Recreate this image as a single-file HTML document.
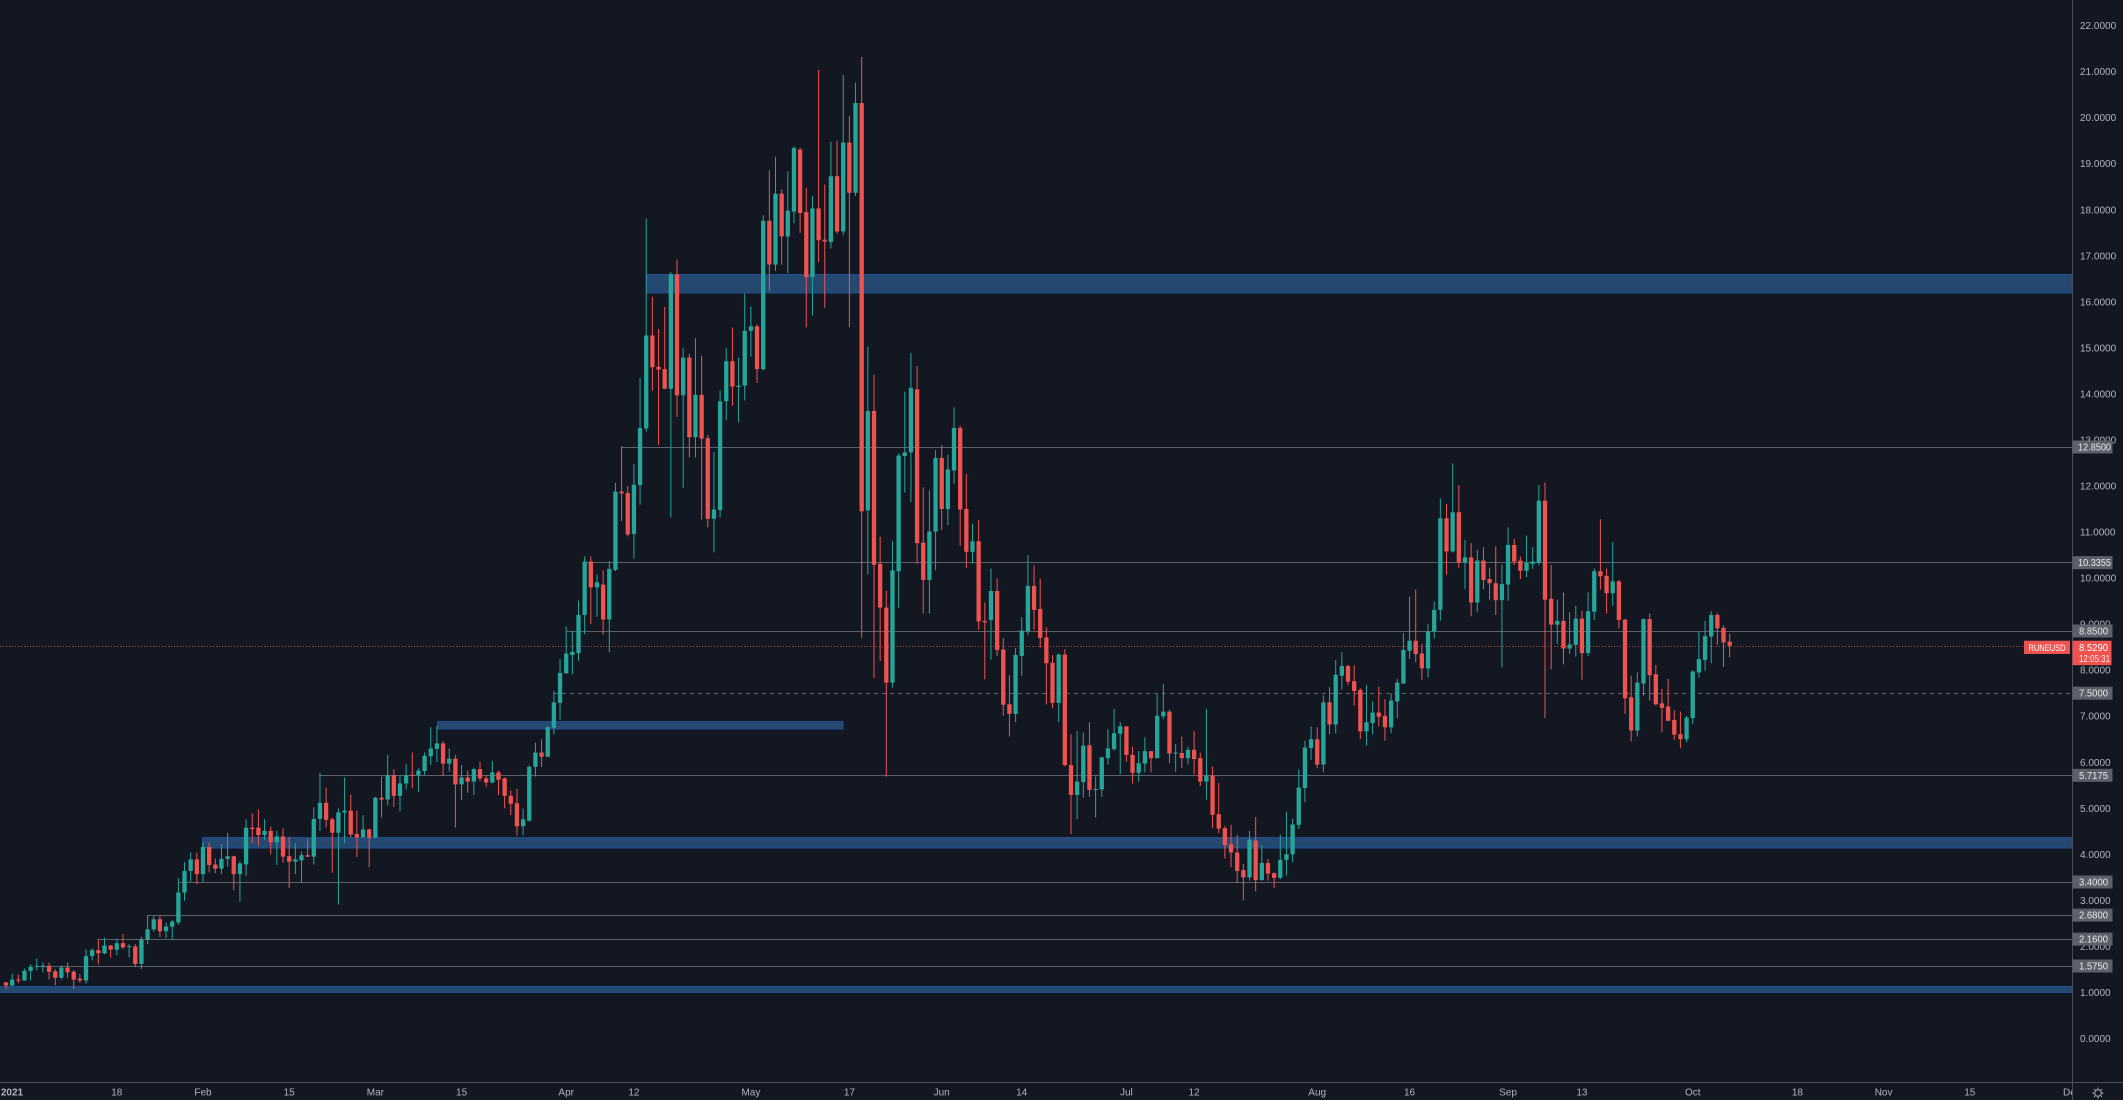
<!DOCTYPE html>
<html><head><meta charset="utf-8">
<style>
html,body{margin:0;padding:0;background:#131722;overflow:hidden;}
svg{display:block}
text{font-family:"Liberation Sans",sans-serif;}
</style></head>
<body>
<svg id="chart" width="2123" height="1100" viewBox="0 0 2123 1100" xmlns="http://www.w3.org/2000/svg">
<defs>
<clipPath id="plot"><rect x="0" y="0" width="2072" height="1082"/></clipPath>
</defs>
<rect width="2123" height="1100" fill="#131722"/>

<!-- zones -->
<g fill="#24486f" stroke="#1f4e8f" stroke-width="1">
<rect x="646.5" y="274.5" width="1425.5" height="18.5"/>
<rect x="437.5" y="721.5" width="405.5" height="7.5"/>
<rect x="202.5" y="837.5" width="1869.5" height="10.5"/>
<rect x="-1" y="986.5" width="2073" height="6"/>
</g>

<!-- levels -->
<g stroke="#5d606b" stroke-width="1" fill="none">
<line x1="621.7" y1="447.5" x2="2072" y2="447.5"/>
<line x1="587" y1="562.5" x2="2072" y2="562.5"/>
<line x1="566.7" y1="631.5" x2="2072" y2="631.5"/>
<line x1="554" y1="693.5" x2="2072" y2="693.5" stroke-dasharray="4 4"/>
<line x1="319" y1="775.5" x2="2072" y2="775.5"/>
<line x1="178.7" y1="882.5" x2="2072" y2="882.5"/>
<line x1="147" y1="915.5" x2="2072" y2="915.5"/>
<line x1="97.3" y1="939.5" x2="2072" y2="939.5"/>
<line x1="36.7" y1="966.5" x2="2072" y2="966.5"/>
</g>
<line x1="0" y1="646.5" x2="2024" y2="646.5" stroke="#ef5350" stroke-opacity="0.75" stroke-width="1" stroke-dasharray="1 2"/>

<g id="candles" clip-path="url(#plot)"></g>

<!-- axes -->
<line x1="2072.5" y1="0" x2="2072.5" y2="1100" stroke="#4b4f5a" stroke-width="1"/>
<line x1="0" y1="1082.5" x2="2123" y2="1082.5" stroke="#4b4f5a" stroke-width="1"/>

<g font-size="10" fill="#b2b5be">
<text x="2080" y="29.1">22.0000</text>
<text x="2080" y="75.2">21.0000</text>
<text x="2080" y="121.2">20.0000</text>
<text x="2080" y="167.2">19.0000</text>
<text x="2080" y="213.3">18.0000</text>
<text x="2080" y="259.3">17.0000</text>
<text x="2080" y="305.4">16.0000</text>
<text x="2080" y="351.4">15.0000</text>
<text x="2080" y="397.4">14.0000</text>
<text x="2080" y="443.5">13.0000</text>
<text x="2080" y="489.5">12.0000</text>
<text x="2080" y="535.6">11.0000</text>
<text x="2080" y="581.6">10.0000</text>
<text x="2080" y="627.6">9.0000</text>
<text x="2080" y="673.7">8.0000</text>
<text x="2080" y="719.7">7.0000</text>
<text x="2080" y="765.8">6.0000</text>
<text x="2080" y="811.8">5.0000</text>
<text x="2080" y="857.8">4.0000</text>
<text x="2080" y="903.9">3.0000</text>
<text x="2080" y="949.9">2.0000</text>
<text x="2080" y="996">1.0000</text>
<text x="2080" y="1042">0.0000</text>
</g>

<!-- level labels -->
<g fill="#5d606b">
<rect x="2072.5" y="440.5" width="40" height="13"/>
<rect x="2072.5" y="556.2" width="40" height="13"/>
<rect x="2072.5" y="624.5" width="40" height="13"/>
<rect x="2072.5" y="686.7" width="40" height="13"/>
<rect x="2072.5" y="768.8" width="40" height="13"/>
<rect x="2072.5" y="875.5" width="40" height="13"/>
<rect x="2072.5" y="908.6" width="40" height="13"/>
<rect x="2072.5" y="932.6" width="40" height="13"/>
<rect x="2072.5" y="959.5" width="40" height="13"/>
</g>
<g font-size="10" fill="#e8e9ed" lengthAdjust="spacingAndGlyphs">
<text x="2078" y="450.5" textLength="33" lengthAdjust="spacingAndGlyphs">12.8500</text>
<text x="2078" y="566.2" textLength="33" lengthAdjust="spacingAndGlyphs">10.3355</text>
<text x="2079" y="634.5" textLength="29" lengthAdjust="spacingAndGlyphs">8.8500</text>
<text x="2079" y="696.7" textLength="29" lengthAdjust="spacingAndGlyphs">7.5000</text>
<text x="2079" y="778.8" textLength="29" lengthAdjust="spacingAndGlyphs">5.7175</text>
<text x="2079" y="885.5" textLength="29" lengthAdjust="spacingAndGlyphs">3.4000</text>
<text x="2079" y="918.6" textLength="29" lengthAdjust="spacingAndGlyphs">2.6800</text>
<text x="2079" y="942.6" textLength="29" lengthAdjust="spacingAndGlyphs">2.1600</text>
<text x="2079" y="969.5" textLength="29" lengthAdjust="spacingAndGlyphs">1.5750</text>
</g>

<!-- current price -->
<rect x="2024" y="640.7" width="46" height="13.3" fill="#ef5350"/>
<text x="2047" y="650.9" font-size="9" fill="#ffffff" text-anchor="middle" textLength="37" lengthAdjust="spacingAndGlyphs">RUNEUSD</text>
<rect x="2072.5" y="640.7" width="39" height="24.5" fill="#ef5350"/>
<text x="2079" y="651" font-size="10" fill="#ffffff" textLength="29" lengthAdjust="spacingAndGlyphs">8.5290</text>
<text x="2079" y="662" font-size="10" fill="#ffffff" fill-opacity="0.85" textLength="31" lengthAdjust="spacingAndGlyphs">12:05:31</text>

<!-- x axis -->
<g font-size="10" fill="#b2b5be" text-anchor="middle">
<text x="12" y="1095.5" font-weight="bold">2021</text>
<text x="116.8" y="1095.5">18</text>
<text x="203" y="1095.5">Feb</text>
<text x="289.2" y="1095.5">15</text>
<text x="375.4" y="1095.5">Mar</text>
<text x="461.6" y="1095.5">15</text>
<text x="566.2" y="1095.5">Apr</text>
<text x="633.9" y="1095.5">12</text>
<text x="750.9" y="1095.5">May</text>
<text x="849.4" y="1095.5">17</text>
<text x="941.7" y="1095.5">Jun</text>
<text x="1021.7" y="1095.5">14</text>
<text x="1126.4" y="1095.5">Jul</text>
<text x="1194.1" y="1095.5">12</text>
<text x="1317.2" y="1095.5">Aug</text>
<text x="1409.5" y="1095.5">16</text>
<text x="1508" y="1095.5">Sep</text>
<text x="1581.9" y="1095.5">13</text>
<text x="1692.8" y="1095.5">Oct</text>
<text x="1797.4" y="1095.5">18</text>
<text x="1883.6" y="1095.5">Nov</text>
<text x="1969.8" y="1095.5">15</text>
</g>
<svg x="2055" y="1083" width="17" height="17" overflow="hidden">
<text x="8" y="12.5" font-size="10" fill="#b2b5be">De</text>
</svg>

<!-- gear -->
<g stroke="#b2b5be" stroke-width="1" fill="none">
<circle cx="2098" cy="1093" r="3.3"/>
<line x1="2098" y1="1087.5" x2="2098" y2="1089"/>
<line x1="2098" y1="1097" x2="2098" y2="1098.5"/>
<line x1="2092.5" y1="1093" x2="2094" y2="1093"/>
<line x1="2102" y1="1093" x2="2103.5" y2="1093"/>
<line x1="2094.1" y1="1089.1" x2="2095.1" y2="1090.1"/>
<line x1="2100.9" y1="1095.9" x2="2101.9" y2="1096.9"/>
<line x1="2101.9" y1="1089.1" x2="2100.9" y2="1090.1"/>
<line x1="2095.1" y1="1095.9" x2="2094.1" y2="1096.9"/>
</g>
</svg>

<script>
var D=[
[1.15,1.15,1.0,1.08],[1.08,1.34,1.08,1.21],[1.21,1.32,1.13,1.19],[1.19,1.45,1.18,1.40],[1.40,1.54,1.19,1.49],
[1.49,1.67,1.41,1.51],[1.50,1.58,1.37,1.51],[1.51,1.58,1.21,1.38],[1.39,1.44,1.09,1.25],[1.25,1.52,1.21,1.47],
[1.47,1.58,1.25,1.37],[1.38,1.42,1.0,1.21],[1.23,1.33,1.14,1.19],[1.19,1.87,1.12,1.72],[1.72,1.89,1.63,1.85],
[1.85,2.08,1.54,1.78],[1.78,2.12,1.76,1.95],[1.95,1.96,1.69,1.86],[1.86,2.08,1.74,2.0],[2.0,2.2,1.87,1.91],
[1.93,1.98,1.69,1.94],[1.93,1.98,1.48,1.55],[1.55,2.14,1.44,2.08],[2.08,2.61,1.98,2.3],[2.3,2.6,2.25,2.52],
[2.52,2.61,2.13,2.26],[2.26,2.45,2.11,2.36],[2.36,2.5,2.08,2.47],[2.45,3.41,2.4,3.1],[3.1,3.76,2.92,3.57],
[3.57,3.97,3.34,3.82],[3.82,3.97,3.28,3.5],[3.5,4.2,3.32,4.09],[4.09,4.19,3.54,3.7],[3.71,3.84,3.52,3.62],
[3.62,4.15,3.5,3.83],[3.83,4.4,3.66,3.89],[3.89,3.9,3.15,3.5],[3.5,3.78,2.9,3.73],[3.71,4.69,3.46,4.51],
[4.51,4.82,4.18,4.48],[4.51,4.91,4.12,4.35],[4.35,4.69,4.24,4.44],[4.44,4.53,3.93,4.19],[4.19,4.44,3.7,4.32],
[4.32,4.5,3.75,3.88],[3.89,4.31,3.2,3.77],[3.77,4.17,3.5,3.82],[3.8,3.99,3.32,3.91],[3.91,4.26,3.87,3.88],
[3.88,4.95,3.71,4.7],[4.7,5.7,4.44,5.05],[5.05,5.38,4.51,4.68],[4.69,4.73,3.53,4.4],[4.4,4.93,2.84,4.84],
[4.84,5.6,4.18,4.88],[4.88,5.23,4.3,4.36],[4.37,4.88,3.87,4.3],[4.3,4.78,4.29,4.47],[4.47,4.49,3.65,4.29],
[4.29,5.18,4.28,5.16],[5.16,5.62,4.73,5.12],[5.12,6.09,5.0,5.65],[5.65,5.78,4.96,5.2],[5.2,5.64,4.86,5.47],
[5.47,5.89,5.34,5.65],[5.66,6.14,5.36,5.64],[5.65,5.8,5.29,5.75],[5.74,6.14,5.65,6.07],[6.06,6.69,5.87,6.23],
[6.22,6.72,5.93,6.34],[6.34,6.39,5.63,5.9],[5.9,6.23,5.73,6.01],[6.01,6.09,4.51,5.45],[5.45,5.87,5.11,5.6],
[5.6,5.75,5.27,5.51],[5.51,5.81,5.22,5.78],[5.78,5.94,5.52,5.58],[5.58,5.65,5.39,5.49],[5.49,5.96,5.47,5.71],
[5.71,5.75,5.22,5.55],[5.58,5.6,4.93,5.2],[5.2,5.32,4.78,5.03],[5.04,5.35,4.34,4.54],[4.54,4.93,4.34,4.69],
[4.66,5.87,4.64,5.83],[5.83,6.36,5.62,6.14],[6.14,6.43,5.83,6.05],[6.05,6.72,6.04,6.69],[6.68,7.48,6.54,7.23],
[7.22,8.17,6.85,7.87],[7.86,8.88,7.86,8.29],[8.26,8.78,7.84,8.33],[8.3,9.44,8.13,9.13],[9.13,10.4,8.71,10.29],
[10.29,10.4,8.93,9.73],[9.73,10.01,9.09,9.84],
[9.86,10.17,8.77,9.10],[9.1,10.37,8.39,10.2],[10.18,12.07,10.15,11.88],[11.88,12.87,11.24,11.84],[11.85,12.0,10.91,10.95],
[10.96,12.48,10.42,12.03],[12.02,14.35,11.6,13.26],[13.25,17.81,13.18,15.27],[15.27,16.11,14.07,14.58],[14.59,15.41,12.89,14.53],
[14.54,15.89,14.11,14.11],[14.11,16.65,11.32,16.6],[16.6,16.92,13.5,13.97],[13.97,15.0,11.96,14.79],[14.79,14.87,12.62,13.06],
[13.06,15.21,12.62,13.98],[13.98,14.83,11.27,13.03],[13.04,13.11,11.1,11.29],[11.29,12.74,10.56,11.49],[11.48,14.08,11.32,13.84],
[13.84,15.0,13.43,14.71],[14.71,15.44,13.74,14.16],[14.15,14.79,13.38,14.18],[14.18,16.18,13.86,15.37],[15.37,15.9,14.81,15.47],
[15.47,15.51,14.24,14.54],[14.54,17.88,14.51,17.76],[17.76,18.86,16.23,16.81],[16.81,19.15,16.67,18.35],[18.35,18.44,16.81,17.42],
[17.42,18.83,16.62,17.98],[17.96,19.38,17.71,19.34],[19.31,19.35,17.5,17.93],[17.95,18.48,15.45,16.54],[16.54,18.3,15.7,18.03],
[18.03,21.04,16.86,17.34],[17.35,18.55,15.87,17.31],[17.3,19.48,17.16,18.73],[18.73,19.5,17.48,17.53],[17.53,20.93,17.45,19.46],
[19.46,20.04,15.45,18.37],[18.37,20.76,18.3,20.32],[20.32,21.32,8.7,11.45],[11.47,15.03,10.08,13.63],[13.63,14.42,7.83,10.29],
[10.31,10.9,8.2,9.36],[9.36,9.73,5.69,7.73],[7.73,10.81,7.62,10.17],[10.15,12.71,9.36,12.66],[12.65,14.05,11.86,12.73],
[12.73,14.89,11.65,14.13],[14.1,14.61,10.31,10.76],[10.77,11.97,9.23,9.96],[9.96,11.91,9.23,11.01],[11.01,12.78,10.17,12.61],
[12.61,12.89,11.05,11.5],[11.5,12.68,11.15,12.36],[12.34,13.71,12.05,13.26],[13.26,13.31,10.7,11.49],[11.5,12.26,10.22,10.57],
[10.57,11.18,10.31,10.8],[10.8,11.26,8.88,9.06],[9.07,9.47,7.8,9.04],[9.09,10.21,8.23,9.72],[9.72,9.99,8.31,8.44],
[8.45,8.7,7.01,7.25],[7.26,7.89,6.56,7.05],[7.05,8.48,6.87,8.33],[8.31,9.15,7.88,8.86],[8.85,10.5,8.76,9.83],
[9.83,10.28,8.88,9.31],[9.33,9.99,8.49,8.7],[8.71,8.93,7.26,8.15],[8.16,8.33,7.17,7.29],[7.29,8.36,6.87,8.34],
[8.34,8.46,5.91,5.94],[5.94,6.61,4.44,5.29],[5.29,6.68,4.76,5.58],[5.57,6.65,5.23,6.36],[6.37,6.87,5.25,5.4],
[5.4,5.69,4.8,5.42],[5.41,6.11,5.25,6.11],[6.09,6.72,5.95,6.3],[6.29,7.16,6.25,6.63],[6.62,6.87,5.74,6.78],
[6.78,6.78,6.01,6.16],[6.16,6.34,5.54,5.77],[5.77,6.24,5.58,5.98],[5.97,6.54,5.78,6.24],[6.24,6.24,5.78,6.09],
[6.09,7.48,6.08,7.01],[7.0,7.7,6.94,7.1],[7.1,7.14,5.98,6.19],[6.19,6.4,5.79,6.21],[6.2,6.56,5.87,6.09],
[6.09,6.34,5.95,6.27],[6.27,6.68,5.74,6.07],[6.09,6.21,5.48,5.58],[5.58,7.16,5.19,5.71],[5.71,5.91,4.57,4.86],
[4.87,5.55,4.46,4.56],[4.57,4.62,3.91,4.2],[4.22,4.64,3.72,4.04],[4.04,4.42,3.38,3.64],[3.66,3.79,3.0,3.5],
[3.5,4.51,3.43,4.32],[4.3,4.81,3.19,3.44],[3.44,4.2,3.43,3.81],[3.81,3.9,3.43,3.58],[3.59,3.61,3.27,3.49],
[3.49,4.43,3.46,3.88],[3.88,4.93,3.54,4.0],[4.0,4.78,3.83,4.65],[4.64,5.85,4.55,5.45],[5.44,6.47,5.13,6.32],
[6.31,6.78,6.05,6.5],[6.5,6.76,5.87,5.95],[5.95,7.46,5.78,7.3],[7.3,7.63,6.61,6.82],[6.82,8.22,6.63,7.9],
[7.88,8.39,7.58,8.09],[8.09,8.12,7.68,7.75],[7.76,8.11,7.23,7.55],[7.57,7.61,6.5,6.67],[6.67,7.68,6.36,6.87],
[6.85,7.32,6.6,7.08],[7.08,7.64,6.78,6.99],[7.01,7.37,6.47,6.76],[6.76,7.5,6.63,7.34],[7.32,7.81,6.96,7.73],
[7.71,8.81,7.7,8.44],[8.42,9.6,8.24,8.64],[8.64,9.75,8.17,8.35],[8.36,8.57,7.79,8.04],[8.04,9.0,7.84,8.84],
[8.84,9.49,8.69,9.31],[9.31,11.73,9.07,11.3],[11.3,11.61,10.07,10.58],[10.58,12.49,10.56,11.43],[11.43,12.02,10.22,10.34],
[10.34,10.83,9.76,10.45],[10.45,10.76,9.17,9.47],[9.47,10.62,9.26,10.38],[10.38,10.67,9.76,9.96],[9.98,10.23,9.53,9.89],
[9.89,10.69,9.2,9.52],[9.52,10.3,8.06,9.87],[9.86,11.1,9.51,10.72],[10.72,10.85,10.28,10.36],[10.38,10.47,9.98,10.16],
[10.16,10.92,10.02,10.33],[10.31,10.67,10.2,10.36],[10.33,12.02,10.28,11.68],[11.68,12.08,6.96,9.53],[9.55,10.28,8.02,8.99],
[8.99,9.53,8.57,9.07],[9.07,9.69,8.13,8.47],[8.47,9.26,8.35,8.56],[8.55,9.4,8.3,9.12],[9.12,9.29,7.79,8.37],
[8.37,9.69,8.31,9.28],[9.27,10.21,9.09,10.15],[10.15,11.28,9.75,10.04],[10.05,10.21,9.23,9.67],[9.67,10.78,9.4,9.93],
[9.93,9.96,8.91,9.09],[9.1,9.11,7.05,7.39],[7.41,7.88,6.45,6.69],[6.69,7.95,6.56,7.73],[7.71,9.12,7.45,9.11],
[9.11,9.23,7.34,7.89],[7.91,8.11,7.23,7.26],[7.28,7.59,6.65,7.18],[7.21,7.81,6.9,6.9],[6.92,7.13,6.49,6.6],
[6.61,7.1,6.31,6.5],[6.5,7.01,6.43,6.97],[6.96,8.0,6.83,7.97],[7.95,8.84,7.84,8.24],[8.22,9.07,7.99,8.74],
[8.73,9.28,8.15,9.2],[9.2,9.24,8.55,8.91],[8.92,8.97,8.07,8.6],[8.62,8.79,8.28,8.529]
];
(function(){
  function Y(v){return 1038.5-46.04*v;}
  var h='';
  for(var i=0;i<D.length;i++){
    var d=D[i],o=d[0],hi=d[1],lo=d[2],c=d[3];
    if(i<97){o+=0.07;hi+=0.07;lo+=0.07;c+=0.07;}
    var x=6+6.156*i;
    var col=(c>=o)?'#26a69a':'#ef5350';
    var yt=Y(Math.max(o,c)),yb=Y(Math.min(o,c));
    var yh=Y(hi),yl=Y(lo);
    h+='<rect x="'+(x-0.5).toFixed(2)+'" y="'+yh.toFixed(2)+'" width="1" height="'+Math.max(1,yl-yh).toFixed(2)+'" fill="'+col+'"/>';
    h+='<rect x="'+(x-2.15).toFixed(2)+'" y="'+yt.toFixed(2)+'" width="4.3" height="'+Math.max(1,yb-yt).toFixed(2)+'" fill="'+col+'"/>';
  }
  document.getElementById('candles').innerHTML=h;
})();
</script>
</body></html>
